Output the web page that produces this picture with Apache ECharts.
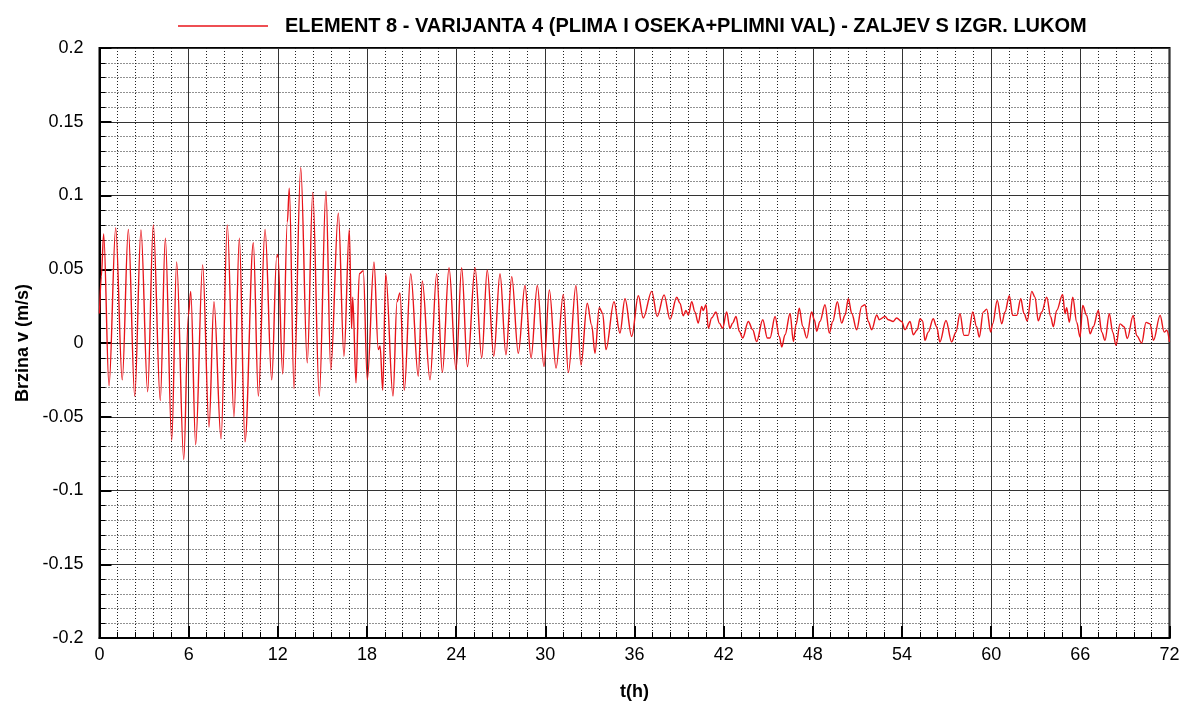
<!DOCTYPE html>
<html>
<head>
<meta charset="utf-8">
<script src="https://cdn.jsdelivr.net/npm/echarts@6/dist/echarts.min.js"></script>
<style>
  html, body { margin: 0; padding: 0; background: #fff; }
  #chart { width: 1184px; height: 709px; }
</style>
</head>
<body>
<div id="chart"></div>
<script>
// Series title
const seriesName = 'ELEMENT 8 - VARIJANTA 4 (PLIMA I OSEKA+PLIMNI VAL) - ZALJEV S IZGR. LUKOM';

// Time (h) of read points
const tHours = [
  0.00, 0.12, 0.28, 0.64, 1.09, 1.53, 1.94, 2.37, 2.79, 3.24, 3.62, 4.09, 4.43, 4.86, 5.19, 5.67,
  5.98, 6.14, 6.47, 6.94, 7.37, 7.70, 8.18, 8.60, 9.05, 9.41, 9.79, 10.35, 10.69, 11.14, 11.59,
  11.92, 12.00, 12.33, 12.64, 12.77, 13.09, 13.54, 13.98, 14.35, 14.79, 15.24, 15.56, 16.07,
  16.45, 16.81, 16.96, 17.04, 17.26, 17.48, 17.75, 18.02, 18.47, 18.76, 18.88, 19.06, 19.26,
  19.75, 20.02, 20.22, 20.51, 20.94, 21.45, 21.72, 22.24, 22.69, 23.07, 23.52, 23.99, 24.37,
  24.76, 25.27, 25.72, 26.09, 26.53, 26.95, 27.35, 27.74, 28.18, 28.63, 29.04, 29.46, 29.91,
  30.27, 30.72, 31.21, 31.55, 32.06, 32.40, 32.82, 33.12, 33.34, 33.63, 33.86, 34.08, 34.62,
  35.02, 35.36, 35.81, 36.26, 36.59, 37.16, 37.53, 37.99, 38.39, 38.84,
  39.06, 39.28, 39.46, 39.62, 39.85, 40.07, 40.29, 40.52, 40.63, 40.81, 40.97, 41.19, 41.48,
  41.71, 41.93, 42.20, 42.42, 42.60, 42.83, 43.05, 43.28, 43.66, 43.95, 44.22, 44.63, 44.94,
  45.12, 45.46, 45.74, 45.91, 46.13, 46.47, 46.69, 46.87, 47.09, 47.32, 47.59, 47.92, 48.10,
  48.26, 48.48, 48.82, 49.11, 49.34, 49.65, 49.94, 50.17, 50.39, 50.62, 50.95, 51.29, 51.51,
  51.73, 51.96, 52.30, 52.47, 52.86, 53.08, 53.41, 53.64, 53.98, 54.20, 54.54, 54.76, 55.03,
  55.21, 55.39, 55.54, 55.77, 56.10, 56.33, 56.55, 56.96, 57.34, 57.63, 57.90, 58.17, 58.46,
  58.76, 59.02, 59.20, 59.47, 59.70, 59.97, 60.10, 60.41, 60.71, 60.93, 61.22, 61.45, 61.72,
  61.99, 62.21, 62.43, 62.73, 62.95, 63.17, 63.40, 63.74, 64.01, 64.18, 64.41, 64.81, 64.97,
  65.08, 65.26, 65.49, 65.76, 65.98, 66.16, 66.43, 66.66, 66.87, 67.21, 67.44, 67.66, 67.95,
  68.18, 68.40, 68.67, 68.94, 69.16, 69.56, 69.79, 70.13, 70.42, 70.69, 70.92, 71.37, 71.64,
  71.82, 72.00
];

// Velocity v (m/s) at those times
const vSpeed = [
  0.020, 0.045, 0.074, -0.029, 0.078, -0.025, 0.077, -0.036, 0.0766, -0.033, 0.080, -0.039, 0.071, -0.066, 0.055, -0.079,
  0.019, 0.035, -0.069, 0.053, -0.057, 0.028, -0.065, 0.080, -0.050, 0.071, -0.067, 0.068, -0.036, 0.077, -0.025,
  0.058, 0.060, -0.021, 0.082, 0.105, -0.031, 0.119, -0.0135, 0.102, -0.036, 0.103, -0.018, 0.088,
  -0.009, 0.077, 0.010, 0.031, -0.027, 0.047, 0.049, -0.025, 0.055, -0.0045, -0.002, -0.032, 0.047,
  -0.036, 0.028, 0.034, -0.032, 0.047, -0.0225, 0.042, -0.025, 0.047, -0.020, 0.051, -0.018, 0.051,
  -0.016, 0.051, -0.010, 0.0495, -0.009, 0.047, -0.008, 0.045, -0.007, 0.039, -0.010, 0.039, -0.016,
  0.036, -0.017, 0.033, -0.020, 0.039, -0.015, 0.027, 0.012, -0.007, 0.024, 0.020, -0.0045, 0.028,
  0.0068, 0.030, 0.0045, 0.032, 0.017, 0.035, 0.018, 0.0326, 0.016, 0.031,
  0.027, 0.0185, 0.022, 0.019, 0.028, 0.021, 0.0135, 0.0248, 0.022, 0.026, 0.010, 0.017, 0.021,
  0.0135, 0.010, 0.021, 0.010, 0.0135, 0.018, 0.008, 0.0034, 0.0146, 0.009, 0.001, 0.0158, 0.0034,
  0.0034, 0.018, 0.0045, -0.0027, 0.0056, 0.020, 0.001, 0.0124, 0.0236, 0.0113, 0.0034, 0.021, 0.0158,
  0.008, 0.0146, 0.0259, 0.0068, 0.0146, 0.028, 0.0135, 0.019, 0.030, 0.020, 0.009, 0.0248, 0.026,
  0.0146, 0.009, 0.019, 0.0158, 0.018, 0.0158, 0.0146, 0.017, 0.0146, 0.009, 0.0146, 0.0056, 0.009,
  0.0164, 0.015, 0.0018, 0.0074, 0.0164, 0.011, 0.0007, 0.0153, 0.0007, 0.0074, 0.0198, 0.0052, 0.0052,
  0.021, 0.011, 0.004, 0.021, 0.023, 0.0074, 0.013, 0.0288, 0.013, 0.021, 0.032, 0.0187, 0.0187,
  0.030, 0.020, 0.015, 0.035, 0.031, 0.015, 0.021, 0.031, 0.0176, 0.011, 0.0221, 0.033, 0.0198,
  0.024, 0.014, 0.031, 0.014, 0.004, 0.0254, 0.0187, 0.0063, 0.011, 0.022, 0.0074, 0.0018, 0.0198,
  0.0074, -0.0016, 0.013, 0.011, 0.003, 0.0187, 0.005, 0.000, 0.014, 0.013, 0.0018, 0.0187, 0.0074,
  0.0086, 0.0007
];

const xTickStep = 6;
const yTickStep = 0.05;
const lineColor = '#e8141a';

const seriesData = tHours.map((t, i) => [t, vSpeed[i]]);

const chart = echarts.init(document.getElementById('chart'), null, { renderer: 'canvas' });
const font = '"Liberation Sans", Arial, sans-serif';

chart.setOption({
  animation: false,
  color: [lineColor],
  backgroundColor: '#ffffff',
  grid: {
    left: 99.5, right: 14.5, top: 48, bottom: 71,
    show: true, borderColor: '#000', borderWidth: 2, backgroundColor: 'transparent'
  },
  legend: {
    show: true,
    left: 178, top: 16, padding: 0,
    icon: 'rect',
    itemWidth: 90, itemHeight: 1.3,
    itemStyle: { color: lineColor },
    data: [seriesName],
    textStyle: { fontFamily: font, fontWeight: 'bold', fontSize: 20, color: '#000', padding: [0, 0, 0, 12] }
  },
  xAxis: {
    type: 'value', min: 0, max: 72, interval: xTickStep,
    name: 't(h)', nameLocation: 'middle', nameGap: 45,
    nameTextStyle: { fontFamily: font, fontWeight: 'bold', fontSize: 18, color: '#000' },
    axisLine: { show: true, onZero: false, lineStyle: { color: '#000', width: 2 } },
    axisTick: { show: true, inside: true, length: 12, lineStyle: { color: '#000', width: 2 } },
    minorTick: { show: true, splitNumber: 5, length: 6, lineStyle: { color: '#000', width: 1 } },
    axisLabel: { fontFamily: font, fontSize: 18, color: '#000', margin: 8 },
    splitLine: { show: true, lineStyle: { color: '#333', width: 1, type: 'solid' } },
    minorSplitLine: { show: true, lineStyle: { color: '#222', width: 1, type: [1, 2] } }
  },
  yAxis: {
    type: 'value', min: -0.2, max: 0.2, interval: yTickStep,
    name: 'Brzina v (m/s)', nameLocation: 'middle', nameGap: 67,
    nameTextStyle: { fontFamily: font, fontWeight: 'bold', fontSize: 18, color: '#000' },
    axisLine: { show: true, onZero: false, lineStyle: { color: '#000', width: 2 } },
    axisTick: { show: true, inside: true, length: 12, lineStyle: { color: '#000', width: 2 } },
    minorTick: { show: true, splitNumber: 5, length: 6, lineStyle: { color: '#000', width: 1 } },
    axisLabel: {
      fontFamily: font, fontSize: 18, color: '#000', margin: 16,
      formatter: v => String(+v.toFixed(2))
    },
    splitLine: { show: true, lineStyle: { color: '#333', width: 1, type: 'solid' } },
    minorSplitLine: { show: true, lineStyle: { color: '#222', width: 1, type: [1, 2] } }
  },
  series: [{
    name: seriesName,
    type: 'line',
    data: seriesData,
    showSymbol: false,
    smooth: 0.35,
    smoothMonotone: 'x',
    lineStyle: { color: lineColor, width: 1.4 },
    itemStyle: { color: lineColor }
  }]
});
</script>
</body>
</html>
